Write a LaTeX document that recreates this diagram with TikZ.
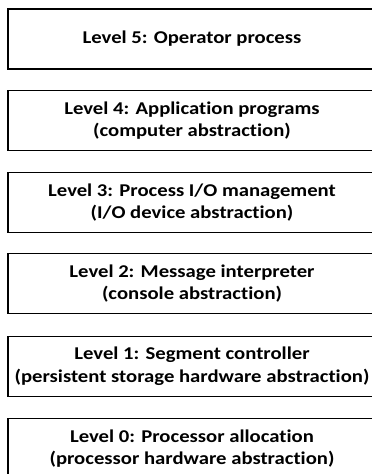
\documentclass[tikz,border=0pt]{standalone}
\usepackage{fontspec}
\setmainfont{Carlito}[Ligatures=NoCommon, FakeStretch=1.15]
\begin{document}
\begin{tikzpicture}[x=1pt,y=-1pt,
  levelbox/.style={draw=black, line width=1.4pt, minimum width=368pt, minimum height=60pt, inner sep=0pt, align=center,
    font=\bfseries\fontsize{18}{22.7}\selectfont, anchor=center}]
\useasboundingbox (0,0) rectangle (372,474);
\node[levelbox] (l5) at (192,39) {Level 5: Operator process};
\node[levelbox] (l4) at (192,120.5) {Level 4: Application programs\\(computer abstraction)};
\node[levelbox] (l3) at (192,202.5) {Level 3: Process I/O management\\(I/O device abstraction)};
\node[levelbox] (l2) at (192,283.5) {Level 2: Message interpreter\\(console abstraction)};
\node[levelbox] (l1) at (192,366.5) {Level 1: Segment controller\\(persistent storage hardware abstraction)};
\node[levelbox] (l0) at (192,448.5) {Level 0: Processor allocation\\(processor hardware abstraction)};
\end{tikzpicture}
\end{document}
